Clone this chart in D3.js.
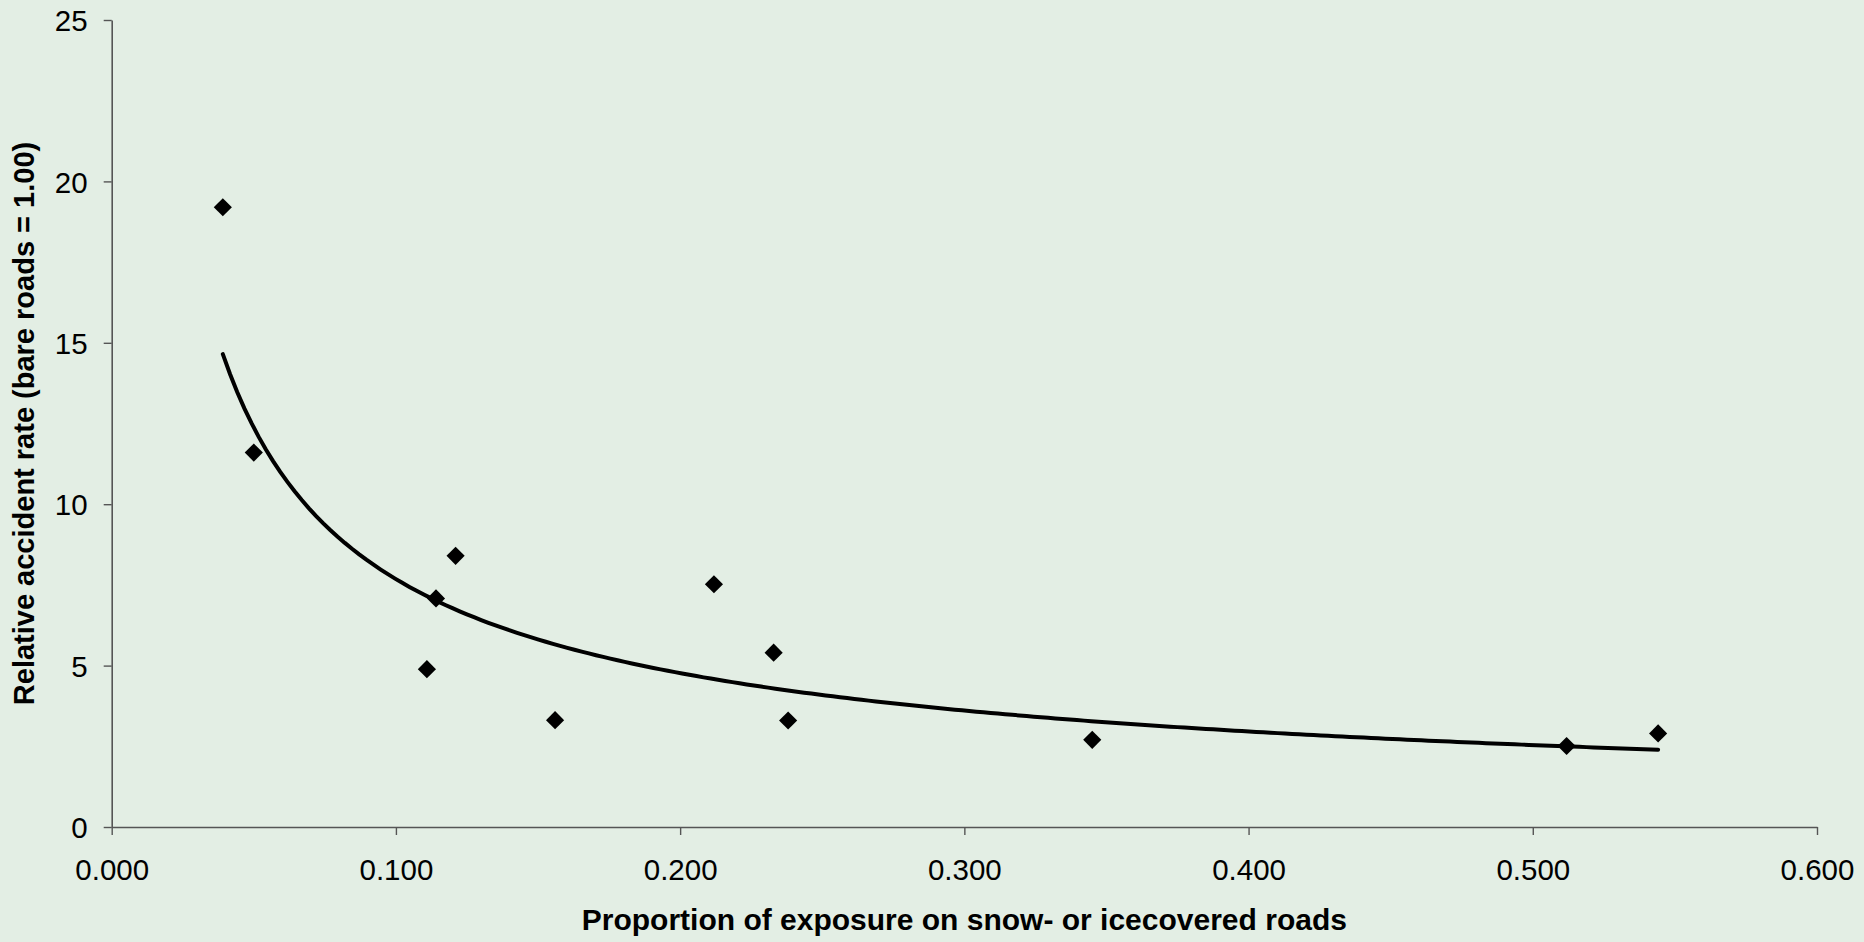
<!DOCTYPE html>
<html>
<head>
<meta charset="utf-8">
<script src="https://cdn.jsdelivr.net/npm/d3@7"></script>
<style>
  html, body { margin: 0; padding: 0; background: #E3EEE4; }
  svg { display: block; }
  text { font-family: "Liberation Sans", Arial, sans-serif; fill: #000; }
</style>
</head>
<body>
<svg id="chart" width="1864" height="942"></svg>
<script>
// Data
const exposure = [0.0391, 0.0500, 0.1109, 0.1141, 0.1210, 0.1560, 0.2119, 0.2329, 0.2380, 0.3450, 0.5119, 0.5441];
const relRate  = [19.2,   11.6,   4.89,   7.08,   8.40,   3.31,   7.52,   5.40,   3.30,   2.70,   2.51,   2.90];
const xTicks = [0, 0.1, 0.2, 0.3, 0.4, 0.5, 0.6];
const yTicks = [0, 5, 10, 15, 20, 25];
const xTitle = "Proportion of exposure on snow- or icecovered roads";
const yTitle = "Relative accident rate (bare roads = 1.00)";

const W = 1864, H = 942;
const m = { left: 111.7, right: W - 1817, top: 20, bottom: H - 827 };
const svg = d3.select("#chart");
svg.append("rect").attr("width", W).attr("height", H).attr("fill", "#E3EEE4");

const x = d3.scaleLinear().domain([0, 0.6]).range([m.left, W - m.right]);
const y = d3.scaleLinear().domain([0, 25]).range([H - m.bottom, m.top]);

// Axes
const xAxis = d3.axisBottom(x).tickValues(xTicks).tickFormat(d3.format(".3f")).tickSizeInner(8).tickSizeOuter(0).tickPadding(24);
const yAxis = d3.axisLeft(y).tickValues(yTicks).tickFormat(d3.format("d")).tickSizeInner(8).tickSizeOuter(0).tickPadding(16);

const gx = svg.append("g").attr("transform", `translate(0,${y(0)})`).call(xAxis);
const gy = svg.append("g").attr("transform", `translate(${x(0)},0)`).call(yAxis);
[gx, gy].forEach(g => {
  g.select(".domain").attr("stroke", "#555").attr("stroke-width", 1.6);
  g.selectAll(".tick line").attr("stroke", "#555").attr("stroke-width", 1.4);
  g.selectAll(".tick text").attr("font-size", 29.5).attr("font-family", "'Liberation Sans', Arial, sans-serif").attr("fill", "#000");
});
gy.selectAll(".tick text").attr("dy", "0.36em");

// Power trendline (least-squares fit in log-log space, as a spreadsheet power trendline)
const lx = exposure.map(Math.log), ly = relRate.map(Math.log);
const mx = d3.mean(lx), my = d3.mean(ly);
const b = d3.sum(lx.map((v, i) => (v - mx) * (ly[i] - my))) / d3.sum(lx.map(v => (v - mx) ** 2));
const a = Math.exp(my - b * mx);
const [xmin, xmax] = d3.extent(exposure);
const fitXs = d3.range(0, 201).map(i => xmin + (xmax - xmin) * i / 200);
svg.append("path")
  .datum(fitXs)
  .attr("fill", "none")
  .attr("stroke", "#000")
  .attr("stroke-width", 4)
  .attr("stroke-linecap", "round")
  .attr("d", d3.line().x(d => x(d)).y(d => y(a * Math.pow(d, b))));

// Points (diamonds)
const sym = d3.symbol().type(d3.symbolSquare).size(165);
svg.append("g").selectAll("path")
  .data(exposure.map((v, i) => [v, relRate[i]]))
  .join("path")
  .attr("d", sym)
  .attr("fill", "#000")
  .attr("transform", d => `translate(${x(d[0])},${y(d[1])}) rotate(45)`);

// Titles
svg.append("text")
  .attr("x", (x(0) + x(0.6)) / 2)
  .attr("y", 930)
  .attr("text-anchor", "middle")
  .attr("font-size", 30)
  .attr("font-weight", "bold")
  .text(xTitle);

svg.append("text")
  .attr("transform", `translate(34,${(y(0) + y(25)) / 2}) rotate(-90)`)
  .attr("text-anchor", "middle")
  .attr("font-size", 29)
  .attr("font-weight", "bold")
  .text(yTitle);
</script>
</body>
</html>
